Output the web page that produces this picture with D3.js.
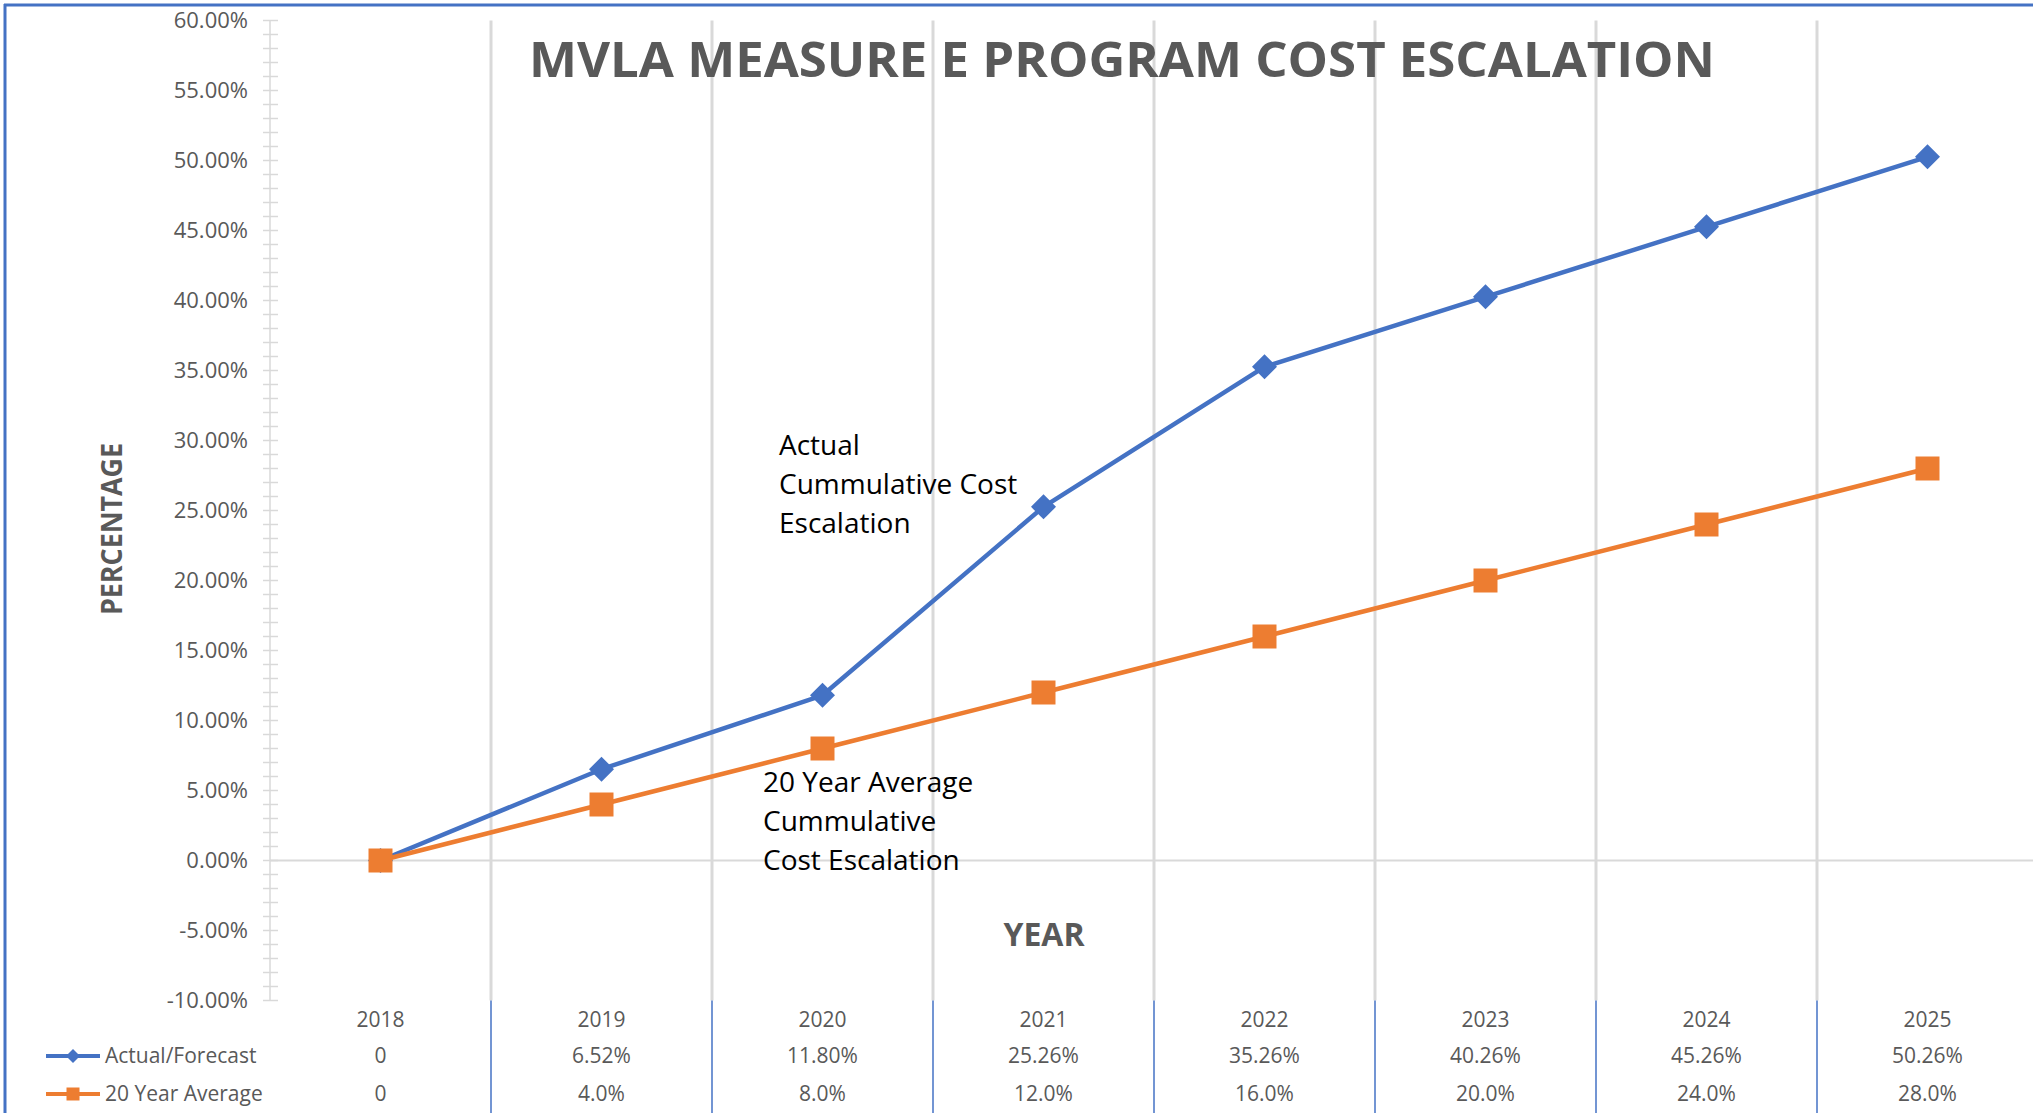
<!DOCTYPE html>
<html>
<head>
<meta charset="utf-8">
<script src="https://cdn.jsdelivr.net/npm/d3@7"></script>
<style>
  body { margin: 0; background: #fff; }
  svg { display: block; font-family: "Open Sans", sans-serif; }
</style>
</head>
<body>
<div id="chart"></div>
<script>
// chart data
const years = ["2018", "2019", "2020", "2021", "2022", "2023", "2024", "2025"]
const actual = [0, 6.52, 11.80, 25.26, 35.26, 40.26, 45.26, 50.26]
const average = [0, 4.0, 8.0, 12.0, 16.0, 20.0, 24.0, 28.0]
const actualLabels = ["0", "6.52%", "11.80%", "25.26%", "35.26%", "40.26%", "45.26%", "50.26%"]
const averageLabels = ["0", "4.0%", "8.0%", "12.0%", "16.0%", "20.0%", "24.0%", "28.0%"]
const yTicks = [-10, -5, 0, 5, 10, 15, 20, 25, 30, 35, 40, 45, 50, 55, 60]

const width = 2033
const height = 1113
const blue = "#4472C4"
const orange = "#ED7D31"
const grey = "#595959"
const grid = "#D9D9D9"

const svg = d3.select("#chart").append("svg").attr("width", width).attr("height", height)
svg.append("rect").attr("width", width).attr("height", height).attr("fill", "#fff")

const x = d3.scaleBand().domain(years).range([270, 270 + 221 * years.length])
const y = d3.scaleLinear().domain([-10, 60]).range([1000.5, 20.5])
const cx = d => x(d) + x.bandwidth() / 2

// vertical gridlines between categories
svg.append("g").selectAll("line")
  .data(years.slice(1))
  .join("line")
  .attr("x1", d => x(d)).attr("x2", d => x(d))
  .attr("y1", y(60)).attr("y2", y(-10))
  .attr("stroke", grid).attr("stroke-width", 3)

// data table dividers
svg.append("g").selectAll("line")
  .data(years.slice(1))
  .join("line")
  .attr("x1", d => x(d)).attr("x2", d => x(d))
  .attr("y1", y(-10)).attr("y2", height)
  .attr("stroke", blue).attr("stroke-width", 1.5)

// zero line
svg.append("line")
  .attr("x1", 270).attr("x2", width)
  .attr("y1", y(0)).attr("y2", y(0))
  .attr("stroke", grid).attr("stroke-width", 2)

// y axis with minor ticks
svg.append("line")
  .attr("x1", 270).attr("x2", 270)
  .attr("y1", y(60)).attr("y2", y(-10))
  .attr("stroke", grid).attr("stroke-width", 1.5)
svg.append("g").selectAll("line")
  .data(d3.range(-10, 61, 1))
  .join("line")
  .attr("x1", 263).attr("x2", 278)
  .attr("y1", d => y(d)).attr("y2", d => y(d))
  .attr("stroke", grid).attr("stroke-width", 1.5)
svg.append("g").selectAll("text")
  .data(yTicks)
  .join("text")
  .attr("x", 248).attr("y", d => y(d))
  .attr("dy", "0.35em")
  .attr("text-anchor", "end")
  .attr("font-size", 22)
  .attr("fill", grey)
  .text(d => d.toFixed(2) + "%")

// title and axis titles
svg.append("text")
  .attr("x", 1122).attr("y", 77)
  .attr("text-anchor", "middle")
  .attr("font-size", 48).attr("font-weight", "bold")
  .attr("fill", grey)
  .attr("textLength", 1186).attr("lengthAdjust", "spacingAndGlyphs")
  .text("MVLA MEASURE E PROGRAM COST ESCALATION")

svg.append("text")
  .attr("transform", "translate(122,529) rotate(-90)")
  .attr("text-anchor", "middle")
  .attr("font-size", 28).attr("font-weight", "bold")
  .attr("fill", grey)
  .attr("textLength", 172).attr("lengthAdjust", "spacingAndGlyphs")
  .text("PERCENTAGE")

svg.append("text")
  .attr("x", 1044).attr("y", 946)
  .attr("text-anchor", "middle")
  .attr("font-size", 32).attr("font-weight", "bold")
  .attr("fill", grey)
  .text("YEAR")

// series
const series = [
  {name: "Actual/Forecast", values: actual, labels: actualLabels, color: blue, shape: "diamond"},
  {name: "20 Year Average", values: average, labels: averageLabels, color: orange, shape: "square"}
]

const line = d3.line()
  .x((d, i) => cx(years[i]))
  .y(d => y(d))

series.forEach(s => {
  svg.append("path")
    .datum(s.values)
    .attr("fill", "none")
    .attr("stroke", s.color)
    .attr("stroke-width", 4.5)
    .attr("stroke-linejoin", "round")
    .attr("d", line)

  const rot = s.shape == "diamond" ? " rotate(45)" : ""
  const area = s.shape == "diamond" ? 25 * 25 / 2 : 24 * 24
  svg.append("g").selectAll("path")
    .data(s.values)
    .join("path")
    .attr("d", d3.symbol(d3.symbolSquare, area))
    .attr("transform", (d, i) => `translate(${cx(years[i])},${y(d)})${rot}`)
    .attr("fill", s.color)
})

// annotations
const note = (lines, x0, y0) => {
  svg.append("g").selectAll("text")
    .data(lines)
    .join("text")
    .attr("x", x0).attr("y", (d, i) => y0 + i * 39)
    .attr("font-size", 28)
    .attr("fill", "#000")
    .text(d => d)
}
note(["Actual", "Cummulative Cost", "Escalation"], 779, 455)
note(["20 Year Average", "Cummulative", "Cost Escalation"], 763, 792)

// data table
const tableRows = [1020, 1056, 1094]
svg.append("g").selectAll("text")
  .data(years)
  .join("text")
  .attr("x", d => cx(d)).attr("y", tableRows[0])
  .attr("dy", "0.35em")
  .attr("text-anchor", "middle")
  .attr("font-size", 21).attr("fill", grey)
  .text(d => d)

series.forEach((s, k) => {
  const ry = tableRows[k + 1]
  svg.append("g").selectAll("text")
    .data(s.labels)
    .join("text")
    .attr("x", (d, i) => cx(years[i])).attr("y", ry)
    .attr("dy", "0.35em")
    .attr("text-anchor", "middle")
    .attr("font-size", 21).attr("fill", grey)
    .text(d => d)

  // legend key
  svg.append("line")
    .attr("x1", 46).attr("x2", 100)
    .attr("y1", ry).attr("y2", ry)
    .attr("stroke", s.color).attr("stroke-width", 4)
  const rot = s.shape == "diamond" ? " rotate(45)" : ""
  const area = s.shape == "diamond" ? 14 * 14 / 2 : 13 * 13
  svg.append("path")
    .attr("d", d3.symbol(d3.symbolSquare, area))
    .attr("transform", `translate(73,${ry})${rot}`)
    .attr("fill", s.color)
  svg.append("text")
    .attr("x", 105).attr("y", ry)
    .attr("dy", "0.35em")
    .attr("font-size", 21).attr("fill", grey)
    .text(s.name)
})

// outer border (left and top)
svg.append("line").attr("x1", 5).attr("x2", 5).attr("y1", 4).attr("y2", height)
  .attr("stroke", blue).attr("stroke-width", 3)
svg.append("line").attr("x1", 4).attr("x2", width).attr("y1", 5).attr("y2", 5)
  .attr("stroke", blue).attr("stroke-width", 3)
</script>
</body>
</html>
